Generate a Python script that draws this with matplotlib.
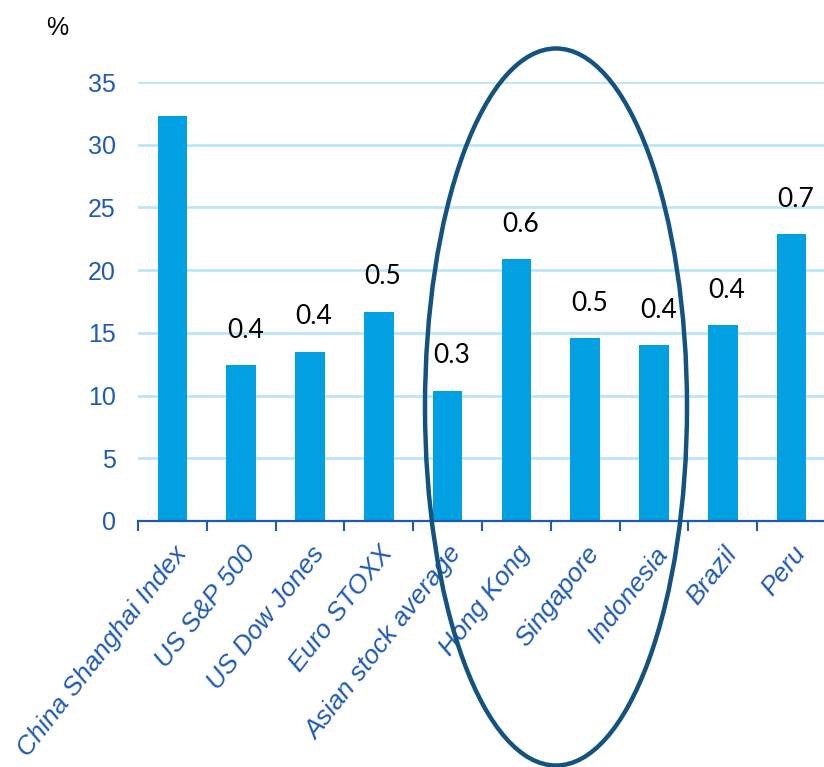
import matplotlib
matplotlib.use("Agg")
from matplotlib import pyplot as plt
from matplotlib.patches import Ellipse

indices = ["China Shanghai Index", "US S&P 500", "US Dow Jones", "Euro STOXX",
           "Asian stock average", "Hong Kong", "Singapore", "Indonesia", "Brazil", "Peru"]
retornos = [32.3, 12.4, 13.5, 16.7, 10.4, 20.9, 14.6, 14.0, 15.6, 22.9]
rotulos = ["", "0.4", "0.4", "0.5", "0.3", "0.6", "0.5", "0.4", "0.4", "0.7"]

azul_barra = "#00A0E3"
azul_texto = "#1F5BB5"
azul_grade = "#BFE6F7"
azul_elipse = "#14537F"

plt.rcParams['font.family'] = ['Liberation Sans', 'DejaVu Sans']

fig = plt.figure(figsize=(8.24, 7.67), dpi=100)
ax = fig.add_axes([138/824, 1 - 521/767, 1 - 138/824, (521 - 82)/767])

x = list(range(len(indices)))
barras = ax.bar(x, retornos, width=0.43, color=azul_barra, zorder=3)

for xi, yi, r in zip(x, retornos, rotulos):
    if r:
        ax.annotate(r, (xi, yi), xytext=(3, 25), textcoords="offset points",
                    ha="center", va="center", fontsize=19, color="black",
                    family=["Lato", "DejaVu Sans"], annotation_clip=False)

ax.set_xlim(-0.5, 9.47)
ax.set_ylim(0, 35)
ax.set_yticks(range(0, 36, 5))
ax.yaxis.grid(True, color=azul_grade, linewidth=2)
ax.set_axisbelow(True)

for lado in ["left", "right", "top"]:
    ax.spines[lado].set_visible(False)
ax.spines["bottom"].set_color(azul_texto)
ax.spines["bottom"].set_linewidth(1.6)
ax.spines["bottom"].set_zorder(4)

ax.set_xticks(x)
ax.set_xticklabels(indices, rotation=52, ha="right", va="top", rotation_mode="anchor",
                   fontsize=19, style="italic", color=azul_texto)
ax.tick_params(axis="x", which="major", length=0, pad=15)
ax.set_xticks([i - 0.5 for i in range(len(indices))], minor=True)
ax.tick_params(axis="x", which="minor", length=7, width=1.5, color=azul_texto, direction="out")
ax.tick_params(axis="y", length=0, pad=16, labelsize=18, labelcolor=azul_texto)

fig.text(57/824, 1 - 28/767, "%", fontsize=18, ha="center", va="center", color="black")

elipse = Ellipse((556/824, 1 - 407/767), 262/824, 717/767, transform=fig.transFigure,
                 fill=False, edgecolor=azul_elipse, linewidth=3.2, zorder=10)
fig.patches.append(elipse)

plt.savefig("out.png", dpi=100)
